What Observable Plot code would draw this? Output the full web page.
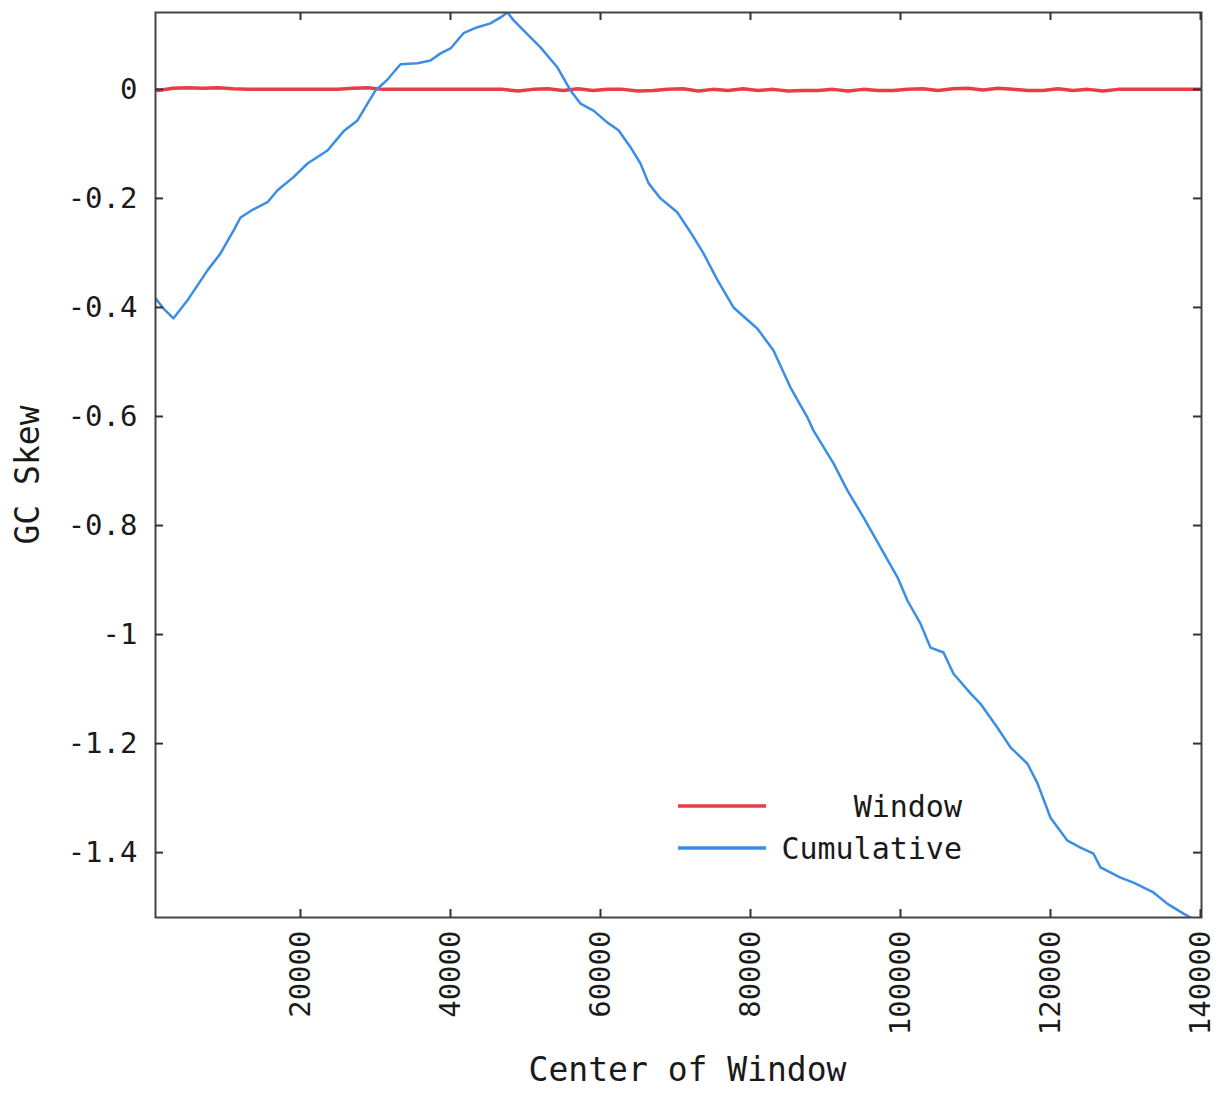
<!DOCTYPE html>
<html>
<head>
<meta charset="utf-8">
<script src="https://cdn.jsdelivr.net/npm/d3@7"></script>
<script src="https://cdn.jsdelivr.net/npm/@observablehq/plot@0.6"></script>
<style>
  html, body { margin: 0; padding: 0; background: #fff; }
  #wrap { position: relative; width: 1223px; height: 1093px; }
  #legend { position: absolute; left: 0; top: 0; pointer-events: none; }
</style>
</head>
<body>
<div id="wrap"></div>
<script>
// ---- data ----
const xTicks = [20000, 40000, 60000, 80000, 100000, 120000, 140000];
const yTicks = [0, -0.2, -0.4, -0.6, -0.8, -1, -1.2, -1.4];
const xDomain = [667, 140133];
const yDomain = [-1.519, 0.141];

const seriesNames = ["Window", "Cumulative"];
const seriesColors = ["#e83c46", "#3a8ee6"];

const windowCenters = [667, 1000, 3000, 5000, 7000, 9000, 11000, 13000, 15000, 17000, 19000,
  21000, 23000, 25000, 27000, 29000, 31000, 33000, 35000, 37000, 39000,
  41000, 43000, 45000, 47000, 49000, 51000, 53000, 55000, 57000, 59000,
  61000, 63000, 65000, 67000, 69000, 71000, 73000, 75000, 77000, 79000,
  81000, 83000, 85000, 87000, 89000, 91000, 93000, 95000, 97000, 99000,
  101000, 103000, 105000, 107000, 109000, 111000, 113000, 115000, 117000, 119000,
  121000, 123000, 125000, 127000, 129000, 131000, 133000, 135000, 137000, 139000, 140133];
const windowSkew = [0, -0.002, 0.002, 0.003, 0.002, 0.003, 0.001, 0, 0, 0, 0,
  0, 0, 0, 0.002, 0.003, 0, 0, 0, 0, 0,
  0, 0, 0, 0, -0.003, 0, 0.001, -0.002, 0.001, -0.002,
  0, 0, -0.003, -0.002, 0, 0.001, -0.003, 0, -0.002, 0.001,
  -0.002, 0, -0.003, -0.002, -0.002, 0, -0.003, 0, -0.002, -0.002,
  0, 0.001, -0.002, 0.001, 0.002, -0.001, 0.002, 0, -0.002, -0.002,
  0.001, -0.002, 0, -0.003, 0, 0, 0, 0, 0, 0, 0];

const cumCenters = [667, 1733, 3067, 4933, 7600, 9333, 11067, 12000, 13733, 15600,
  16933, 19067, 20933, 23600, 25733, 27600, 28933, 30000, 31600, 33333,
  35600, 37333, 38667, 40000, 41733, 43600, 45333, 46667, 47600, 48400,
  49733, 52000, 54267, 56000, 57333, 59067, 60933, 62400, 64000, 65333,
  66400, 68000, 70267, 72000, 73733, 75600, 77733, 80933, 83067, 85333,
  87600, 88400, 91067, 92933, 95067, 97333, 99600, 100933, 102667, 104000,
  105733, 107067, 109333, 110667, 112933, 114667, 116933, 118267, 120000, 122267,
  124000, 125733, 126667, 129333, 131067, 133733, 135600, 137733, 138667];
const cumSkew = [-0.383, -0.402, -0.420, -0.387, -0.332, -0.301, -0.259, -0.235, -0.220, -0.207,
  -0.185, -0.161, -0.136, -0.112, -0.077, -0.057, -0.026, -0.002, 0.018, 0.046,
  0.048, 0.053, 0.066, 0.075, 0.103, 0.114, 0.121, 0.132, 0.141, 0.127,
  0.108, 0.077, 0.040, -0.002, -0.026, -0.039, -0.061, -0.075, -0.106, -0.136,
  -0.172, -0.200, -0.226, -0.262, -0.301, -0.350, -0.400, -0.439, -0.479, -0.547,
  -0.602, -0.626, -0.686, -0.736, -0.785, -0.840, -0.895, -0.938, -0.980, -1.024,
  -1.033, -1.072, -1.108, -1.127, -1.171, -1.207, -1.237, -1.273, -1.336, -1.378,
  -1.391, -1.402, -1.427, -1.446, -1.455, -1.473, -1.494, -1.512, -1.519];

const windowData = windowCenters.map((x, i) => ({x, y: windowSkew[i]}));
const cumData = cumCenters.map((x, i) => ({x, y: cumSkew[i]}));

// ---- layout ----
const W = 1223, H = 1093;
const mL = 155, mR = 22, mT = 12, mB = 176;
const innerW = W - mL - mR, innerH = H - mT - mB;
const tickLen = 8;
const fontFam = "'DejaVu Sans Mono', 'Liberation Mono', monospace";

const chart = Plot.plot({
  width: W,
  height: H,
  marginLeft: mL, marginRight: mR, marginTop: mT, marginBottom: mB,
  style: {fontFamily: fontFam, fontSize: "29px", color: "#1a1a1a", background: "#fff"},
  x: {domain: xDomain, axis: null},
  y: {domain: yDomain, axis: null},
  marks: [
    Plot.line(windowData, {x: "x", y: "y", stroke: seriesColors[0], strokeWidth: 3.5, clip: true}),
    Plot.line(cumData, {x: "x", y: "y", stroke: seriesColors[1], strokeWidth: 2.5, clip: true}),
    Plot.frame({stroke: "#444", strokeWidth: 2}),
    Plot.tickX(xTicks, {x: d => d, insetTop: innerH - tickLen, stroke: "#333", strokeWidth: 2}),
    Plot.tickX(xTicks, {x: d => d, insetBottom: innerH - tickLen, stroke: "#333", strokeWidth: 2}),
    Plot.tickY(yTicks, {y: d => d, insetRight: innerW - tickLen, stroke: "#333", strokeWidth: 2}),
    Plot.tickY(yTicks, {y: d => d, insetLeft: innerW - tickLen, stroke: "#333", strokeWidth: 2}),
    Plot.axisX(xTicks, {tickSize: 0, tickRotate: -90, tickPadding: 13, tickFormat: d => String(d), label: null, fontSize: 29}),
    Plot.axisY(yTicks, {tickSize: 0, tickPadding: 18, tickFormat: d => String(d), label: null, fontSize: 29}),
    Plot.text(["GC Skew"], {text: d => d, frameAnchor: "left", textAnchor: "middle", lineAnchor: "middle", dx: -127, dy: 10, rotate: -90, fontSize: 33, fill: "#1a1a1a"}),
    Plot.text(["Center of Window"], {text: d => d, frameAnchor: "bottom", textAnchor: "middle", lineAnchor: "middle", dx: 9, dy: 153, fontSize: 33, fill: "#1a1a1a"})
  ]
});

const wrap = document.getElementById("wrap");
wrap.appendChild(chart);

// ---- legend (inside plot area, bottom right) ----
const legend = d3.create("svg")
  .attr("id", "legend")
  .attr("width", W).attr("height", H)
  .style("font-family", fontFam);
const legendRows = seriesNames.map((name, i) => ({name, color: seriesColors[i], row: i}));
const g = legend.append("g").attr("transform", "translate(678,806)");
g.selectAll("line").data(legendRows).join("line")
  .attr("x1", 0).attr("x2", 88)
  .attr("y1", d => d.row * 42).attr("y2", d => d.row * 42)
  .attr("stroke", d => d.color).attr("stroke-width", 3.5);
g.selectAll("text").data(legendRows).join("text")
  .attr("x", 284).attr("y", d => d.row * 42)
  .attr("dy", "0.36em")
  .attr("text-anchor", "end")
  .attr("font-size", 30)
  .attr("fill", "#1a1a1a")
  .text(d => d.name);
wrap.appendChild(legend.node());
</script>
</body>
</html>
